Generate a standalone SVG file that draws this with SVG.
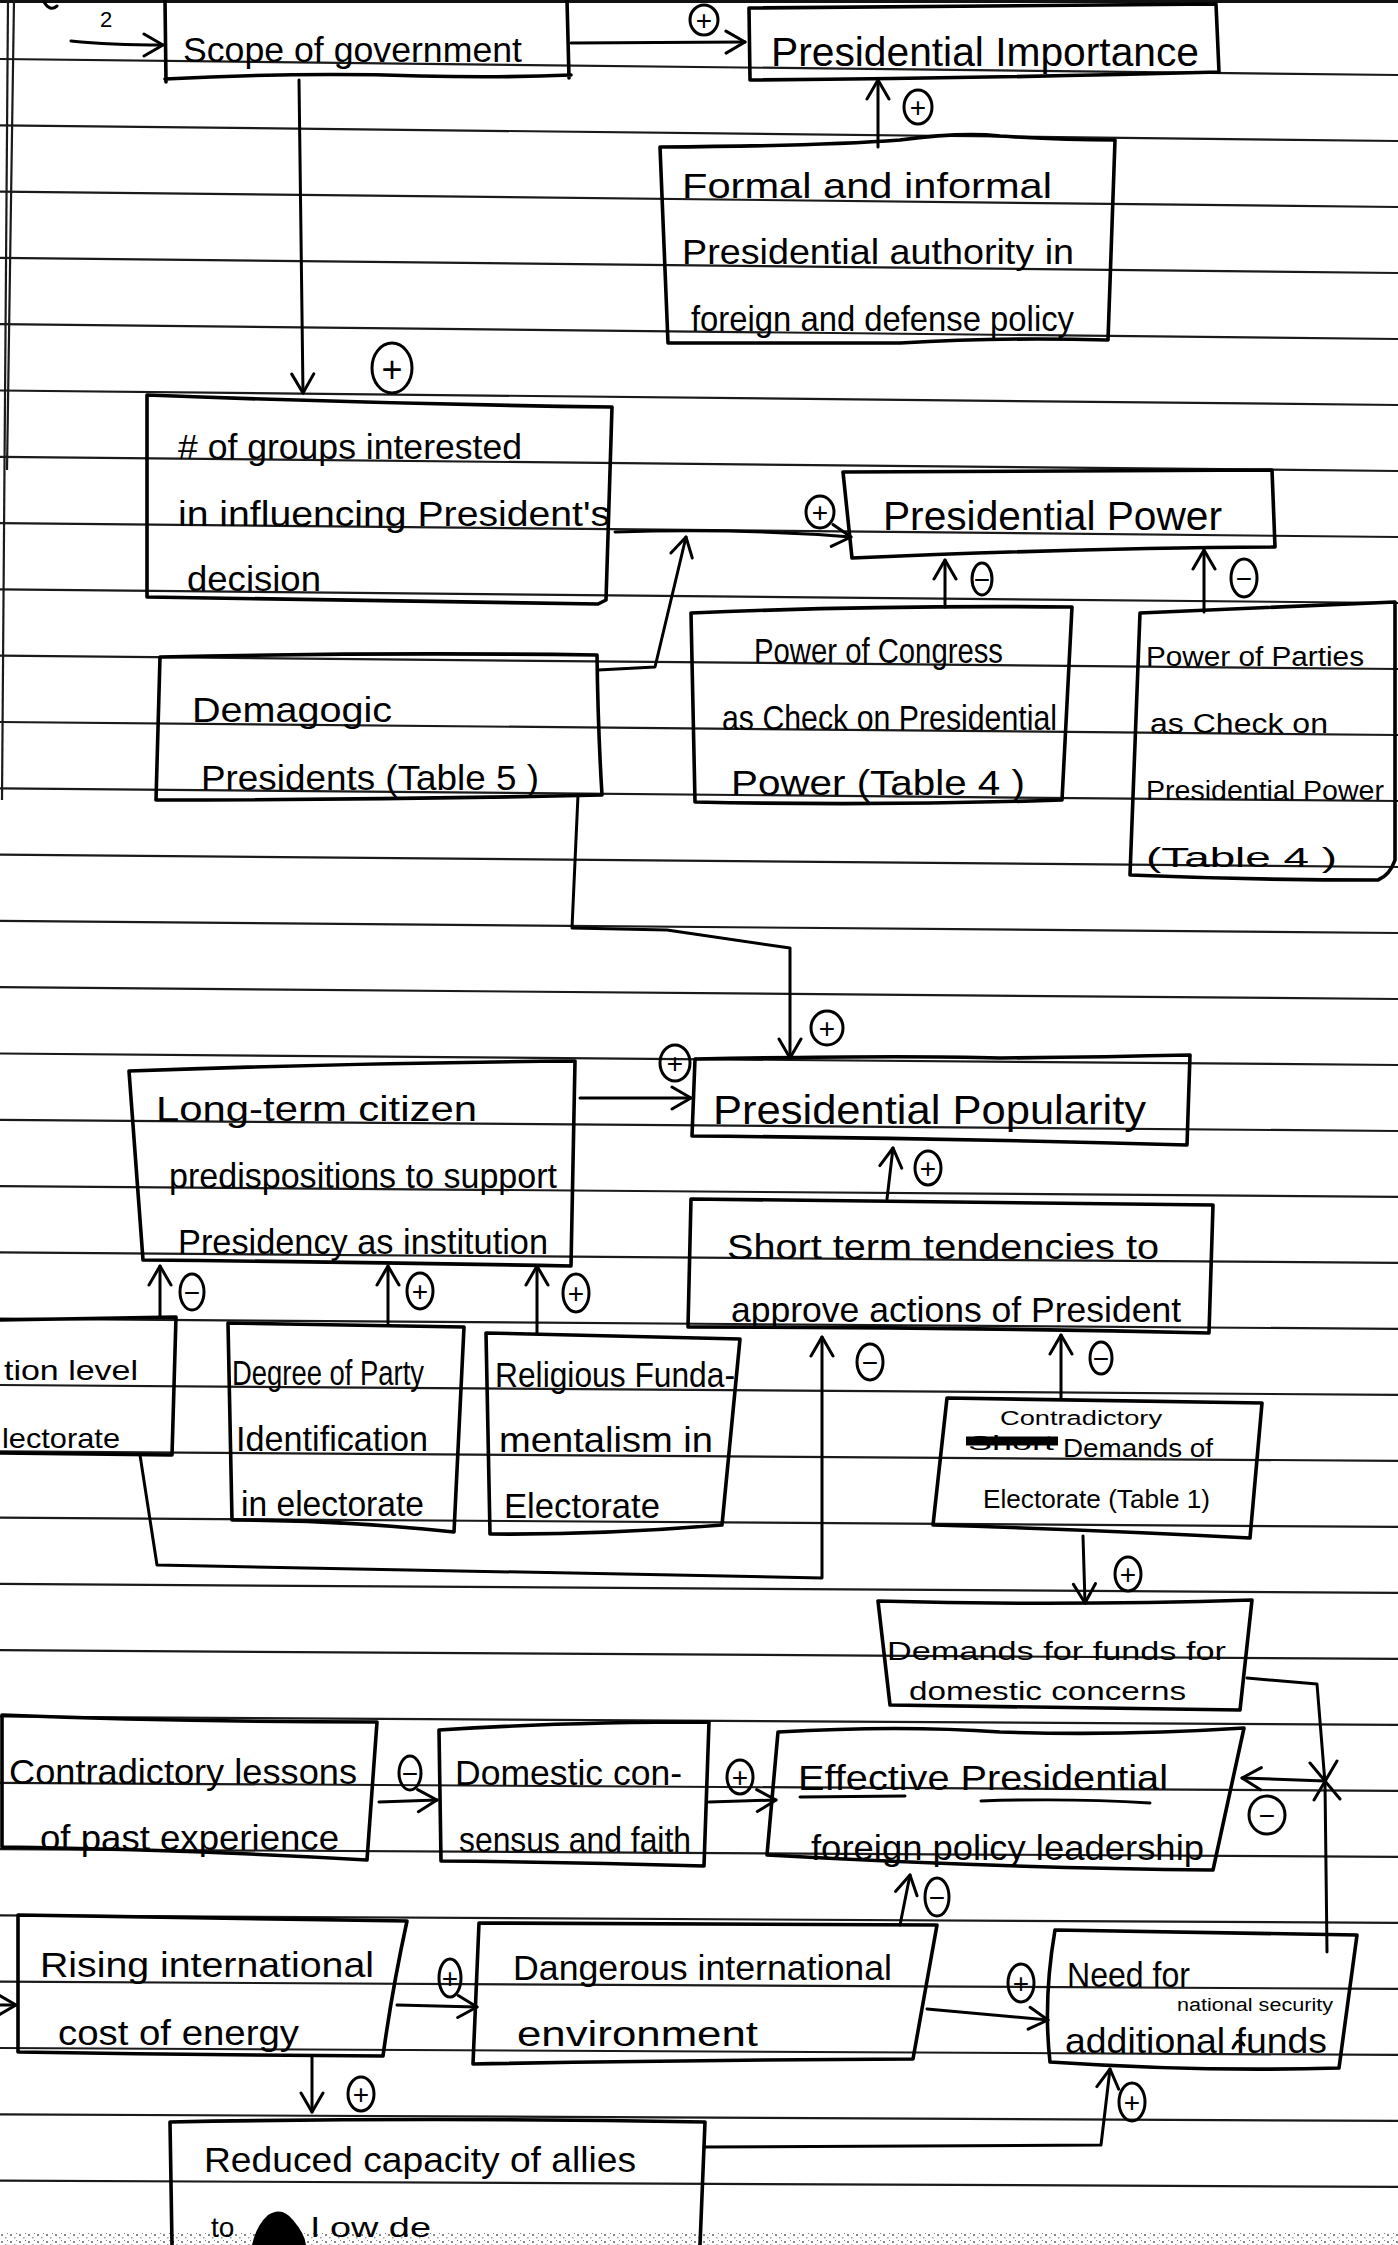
<svg xmlns="http://www.w3.org/2000/svg" width="1398" height="2245" viewBox="0 0 1398 2245">
<defs>
<marker id="arr" viewBox="0 0 24 28" refX="21" refY="14" markerWidth="24" markerHeight="28" markerUnits="userSpaceOnUse" orient="auto"><path d="M2,3 L21,14 L2,25" fill="none" stroke="#000" stroke-width="3" stroke-linecap="round" stroke-linejoin="round"/></marker>
<pattern id="speck" width="9" height="7" patternUnits="userSpaceOnUse"><rect x="1" y="1" width="2" height="2" fill="#555"/><rect x="5" y="4" width="1.5" height="1.5" fill="#777"/><rect x="7" y="0" width="1" height="1" fill="#444"/></pattern>
</defs>
<style>
.rule{stroke:#1a1a1a;stroke-width:2.2;fill:none}
.box{fill:none;stroke:#000;stroke-width:3.6;stroke-linejoin:round;stroke-linecap:round}
.con{fill:none;stroke:#000;stroke-width:3;stroke-linejoin:round;stroke-linecap:round}
.t{font-family:"Liberation Sans","DejaVu Sans",sans-serif;font-size:35px;fill:#000}
.sm{font-size:26px}
.xs{font-size:20px}
.big{font-size:40px}
.nar{font-size:27px}
.mid{font-size:28px}
.tiny{font-size:18px}
.lbl{font-size:22px}
.s{font-family:"Liberation Sans","DejaVu Sans",sans-serif;font-size:28px;fill:#000;text-anchor:middle;dominant-baseline:central}
.sc{fill:none;stroke:#000;stroke-width:3}
</style>
<rect width="1398" height="2245" fill="#fff"/>
<g id="paper">
<line x1="0" y1="1.5" x2="1398" y2="1.5" stroke="#111" stroke-width="3"/>
<line x1="8" y1="0" x2="2" y2="800" class="rule" stroke-width="2.6"/>
<line x1="14" y1="0" x2="7" y2="470" class="rule" stroke-width="2.6"/>
<line x1="0" y1="59" x2="1398" y2="75" class="rule"/>
<line x1="0" y1="125.3" x2="1398" y2="141" class="rule"/>
<line x1="0" y1="191.6" x2="1398" y2="207" class="rule"/>
<line x1="0" y1="257.9" x2="1398" y2="273" class="rule"/>
<line x1="0" y1="324.2" x2="1398" y2="339" class="rule"/>
<line x1="0" y1="390.5" x2="1398" y2="405" class="rule"/>
<line x1="0" y1="456.8" x2="1398" y2="471" class="rule"/>
<line x1="0" y1="523.1" x2="1398" y2="537" class="rule"/>
<line x1="0" y1="589.4" x2="1398" y2="603" class="rule"/>
<line x1="0" y1="655.7" x2="1398" y2="669" class="rule"/>
<line x1="0" y1="722" x2="1398" y2="735" class="rule"/>
<line x1="0" y1="788.3" x2="1398" y2="801" class="rule"/>
<line x1="0" y1="854.6" x2="1398" y2="867" class="rule"/>
<line x1="0" y1="920.9" x2="1398" y2="933" class="rule"/>
<line x1="0" y1="987.2" x2="1398" y2="999" class="rule"/>
<line x1="0" y1="1053.5" x2="1398" y2="1065" class="rule"/>
<line x1="0" y1="1119.8" x2="1398" y2="1131" class="rule"/>
<line x1="0" y1="1186.1" x2="1398" y2="1196.9" class="rule"/>
<line x1="0" y1="1252.4" x2="1398" y2="1262.9" class="rule"/>
<line x1="0" y1="1318.7" x2="1398" y2="1328.9" class="rule"/>
<line x1="0" y1="1385" x2="1398" y2="1394.9" class="rule"/>
<line x1="0" y1="1451.3" x2="1398" y2="1460.9" class="rule"/>
<line x1="0" y1="1517.6" x2="1398" y2="1526.9" class="rule"/>
<line x1="0" y1="1583.9" x2="1398" y2="1592.9" class="rule"/>
<line x1="0" y1="1650.2" x2="1398" y2="1658.9" class="rule"/>
<line x1="0" y1="1716.5" x2="1398" y2="1724.9" class="rule"/>
<line x1="0" y1="1782.8" x2="1398" y2="1790.9" class="rule"/>
<line x1="0" y1="1849.1" x2="1398" y2="1856.9" class="rule"/>
<line x1="0" y1="1915.4" x2="1398" y2="1922.9" class="rule"/>
<line x1="0" y1="1981.7" x2="1398" y2="1988.9" class="rule"/>
<line x1="0" y1="2048" x2="1398" y2="2054.9" class="rule"/>
<line x1="0" y1="2114.3" x2="1398" y2="2120.9" class="rule"/>
<line x1="0" y1="2180.6" x2="1398" y2="2186.9" class="rule"/>
<rect x="0" y="2232" width="1398" height="13" fill="url(#speck)" opacity="0.7"/>
<path d="M44,2 Q50,12 57,6" class="con" stroke-width="2.5"/>
<text x="100" y="27" class="t lbl">2</text>
</g>

<g id="connectors">
<path d="M71,41 Q110,45 163,45" class="con" marker-end="url(#arr)"/>
<path d="M571,43 L745,42" class="con" marker-end="url(#arr)"/>
<path d="M878,147 L878,80" class="con" marker-end="url(#arr)"/>
<path d="M299,80 L303,393" class="con" marker-end="url(#arr)"/>
<path d="M615,532 Q740,528 851,537" class="con" marker-end="url(#arr)"/>
<path d="M598,670 L655,667 L686,537" class="con" marker-end="url(#arr)"/>
<path d="M945,607 L945,560" class="con" marker-end="url(#arr)"/>
<path d="M1204,612 L1204,550" class="con" marker-end="url(#arr)"/>
<path d="M578,795 L572,928 L667,930 L790,948 L790,1058" class="con" marker-end="url(#arr)"/>
<path d="M580,1098 L691,1098" class="con" marker-end="url(#arr)"/>
<path d="M887,1199 L893,1148" class="con" marker-end="url(#arr)"/>
<path d="M160,1316 L160,1266" class="con" marker-end="url(#arr)"/>
<path d="M388,1323 L388,1266" class="con" marker-end="url(#arr)"/>
<path d="M537,1333 L537,1266" class="con" marker-end="url(#arr)"/>
<path d="M140,1455 L157,1565 L822,1578 L822,1337" class="con" marker-end="url(#arr)"/>
<path d="M1061,1398 L1061,1335" class="con" marker-end="url(#arr)"/>
<path d="M1083,1536 L1085,1603" class="con" marker-end="url(#arr)"/>
<path d="M1247,1678 L1317,1684 L1325,1783 L1327,1952" class="con"/>
<path d="M1325,1781 L1242,1778" class="con" marker-end="url(#arr)"/>
<path d="M1310,1763 L1340,1799 M1337,1761 L1314,1800" class="con"/>
<path d="M379,1802 L437,1800" class="con" marker-end="url(#arr)"/>
<path d="M709,1802 L776,1800" class="con" marker-end="url(#arr)"/>
<path d="M900,1925 L910,1875" class="con" marker-end="url(#arr)"/>
<path d="M0,2005 L16,2005" class="con" marker-end="url(#arr)"/>
<path d="M397,2005 L477,2007" class="con" marker-end="url(#arr)"/>
<path d="M312,2057 L312,2112" class="con" marker-end="url(#arr)"/>
<path d="M927,2009 L1048,2020" class="con" marker-end="url(#arr)"/>
<path d="M704,2147 L1101,2145 L1110,2069" class="con" marker-end="url(#arr)"/>
<g id="signs">
<ellipse cx="704" cy="20" rx="14" ry="15" class="sc"/><text x="704" y="20" class="s">+</text>
<ellipse cx="918" cy="107" rx="14" ry="17" class="sc"/><text x="918" y="107" class="s">+</text>
<ellipse cx="392" cy="368" rx="20" ry="25" class="sc"/><text x="392" y="369" class="s" style="font-size:36px">+</text>
<ellipse cx="820" cy="512" rx="14" ry="16" class="sc"/><text x="820" y="512" class="s">+</text>
<ellipse cx="982" cy="579" rx="10" ry="16" class="sc"/><text x="982" y="579" class="s">−</text>
<ellipse cx="1244" cy="578" rx="13" ry="19" class="sc"/><text x="1244" y="578" class="s">−</text>
<ellipse cx="827" cy="1028" rx="16" ry="17" class="sc"/><text x="827" y="1028" class="s">+</text>
<ellipse cx="675" cy="1063" rx="15" ry="18" class="sc"/><text x="675" y="1063" class="s">+</text>
<ellipse cx="928" cy="1168" rx="13" ry="17" class="sc"/><text x="928" y="1168" class="s">+</text>
<ellipse cx="192" cy="1292" rx="12" ry="18" class="sc"/><text x="192" y="1292" class="s">−</text>
<ellipse cx="420" cy="1291" rx="13" ry="18" class="sc"/><text x="420" y="1291" class="s">+</text>
<ellipse cx="576" cy="1293" rx="13" ry="19" class="sc"/><text x="576" y="1293" class="s">+</text>
<ellipse cx="870" cy="1362" rx="13" ry="18" class="sc"/><text x="870" y="1362" class="s">−</text>
<ellipse cx="1101" cy="1358" rx="11" ry="16" class="sc"/><text x="1101" y="1358" class="s">−</text>
<ellipse cx="1128" cy="1574" rx="13" ry="17" class="sc"/><text x="1128" y="1574" class="s">+</text>
<ellipse cx="1267" cy="1815" rx="18" ry="19" class="sc"/><text x="1267" y="1815" class="s">−</text>
<ellipse cx="410" cy="1773" rx="11" ry="17" class="sc"/><text x="410" y="1773" class="s">−</text>
<ellipse cx="740" cy="1777" rx="13" ry="17" class="sc"/><text x="740" y="1777" class="s">+</text>
<ellipse cx="937" cy="1897" rx="12" ry="19" class="sc"/><text x="937" y="1897" class="s">−</text>
<ellipse cx="450" cy="1978" rx="11" ry="19" class="sc"/><text x="450" y="1978" class="s">+</text>
<ellipse cx="361" cy="2094" rx="13" ry="17" class="sc"/><text x="361" y="2094" class="s">+</text>
<ellipse cx="1021" cy="1983" rx="13" ry="19" class="sc"/><text x="1021" y="1983" class="s">+</text>
<ellipse cx="1132" cy="2102" rx="13" ry="19" class="sc"/><text x="1132" y="2102" class="s">+</text>
</g>
</g>

<g id="scope">
<path d="M165,0 L166,82 M165,79 Q300,72 420,76 Q500,78 571,75 M567,0 Q568,40 569,78" class="box"/>
<text x="183" y="62" class="t" textLength="339" lengthAdjust="spacingAndGlyphs">Scope of government</text>
</g>
<g id="importance">
<path d="M749,8 L1216,4 L1219,72 Q1000,78 750,80 Z" class="box"/>
<text x="771" y="66" class="t big" textLength="428" lengthAdjust="spacingAndGlyphs">Presidential Importance</text>
</g>
<g id="formal">
<path d="M660,147 Q820,146 900,140 Q960,132 1000,136 Q1060,140 1115,140 L1108,340 Q1000,337 900,343 Q780,343 668,343 Z" class="box"/>
<text x="682" y="198" class="t" textLength="370" lengthAdjust="spacingAndGlyphs">Formal and informal</text>
<text x="682" y="264" class="t" textLength="392" lengthAdjust="spacingAndGlyphs">Presidential authority in</text>
<text x="691" y="331" class="t" textLength="383" lengthAdjust="spacingAndGlyphs">foreign and defense policy</text>
</g>
<g id="groups">
<path d="M147,395 Q380,404 612,407 L606,600 L598,604 Q400,600 147,597 Z" class="box"/>
<text x="178" y="459" class="t" textLength="344" lengthAdjust="spacingAndGlyphs"># of groups interested</text>
<text x="178" y="526" class="t" textLength="432" lengthAdjust="spacingAndGlyphs">in influencing President's</text>
<text x="187" y="591" class="t" textLength="134" lengthAdjust="spacingAndGlyphs">decision</text>
</g>
<g id="power">
<path d="M843,472 L1272,470 L1275,547 Q1080,548 852,558 Z" class="box"/>
<text x="883" y="530" class="t big" textLength="339" lengthAdjust="spacingAndGlyphs">Presidential Power</text>
</g>
<g id="congress">
<path d="M691,613 Q880,605 1072,607 L1062,800 Q880,806 695,802 Z" class="box"/>
<text x="754" y="663" class="t" textLength="249" lengthAdjust="spacingAndGlyphs">Power of Congress</text>
<text x="722" y="730" class="t" textLength="335" lengthAdjust="spacingAndGlyphs">as Check on Presidential</text>
<text x="731" y="795" class="t" textLength="294" lengthAdjust="spacingAndGlyphs">Power (Table 4 )</text>
</g>
<g id="parties">
<path d="M1140,613 Q1280,607 1395,602 L1395,860 Q1390,875 1378,880 Q1250,880 1130,875 Z" class="box"/>
<text x="1146" y="666" class="t nar" textLength="218" lengthAdjust="spacingAndGlyphs">Power of Parties</text>
<text x="1150" y="733" class="t nar" textLength="178" lengthAdjust="spacingAndGlyphs">as Check on</text>
<text x="1146" y="800" class="t nar" textLength="238" lengthAdjust="spacingAndGlyphs">Presidential Power</text>
<text x="1146" y="867" class="t nar" textLength="191" lengthAdjust="spacingAndGlyphs">(Table 4 )</text>
</g>
<g id="demagogic">
<path d="M160,657 Q380,652 597,655 Q598,730 602,795 Q380,800 156,800 Z" class="box"/>
<text x="192" y="722" class="t" textLength="200" lengthAdjust="spacingAndGlyphs">Demagogic</text>
<text x="201" y="790" class="t" textLength="338" lengthAdjust="spacingAndGlyphs">Presidents (Table 5 )</text>
</g>
<g id="popularity">
<path d="M695,1059 Q900,1055 1000,1058 Q1100,1057 1190,1055 L1187,1145 Q940,1138 692,1136 Z" class="box"/>
<text x="713" y="1124" class="t big" textLength="433" lengthAdjust="spacingAndGlyphs">Presidential Popularity</text>
</g>
<g id="longterm">
<path d="M129,1071 Q350,1063 575,1061 L571,1266 Q360,1262 143,1260 Z" class="box"/>
<text x="156" y="1121" class="t" textLength="321" lengthAdjust="spacingAndGlyphs">Long-term citizen</text>
<text x="169" y="1188" class="t" textLength="388" lengthAdjust="spacingAndGlyphs">predispositions to support</text>
<text x="178" y="1254" class="t" textLength="370" lengthAdjust="spacingAndGlyphs">Presidency as institution</text>
</g>
<g id="education">
<path d="M0,1320 L176,1317 L172,1455 L0,1453" class="box"/>
<text x="4" y="1380" class="t mid" textLength="134" lengthAdjust="spacingAndGlyphs">tion level</text>
<text x="2" y="1448" class="t mid" textLength="118" lengthAdjust="spacingAndGlyphs">lectorate</text>
</g>
<g id="degree">
<path d="M228,1323 L464,1327 L454,1532 Q340,1520 232,1520 Z" class="box"/>
<text x="232" y="1385" class="t" textLength="192" lengthAdjust="spacingAndGlyphs">Degree of Party</text>
<text x="236" y="1451" class="t" textLength="192" lengthAdjust="spacingAndGlyphs">Identification</text>
<text x="241" y="1516" class="t" textLength="183" lengthAdjust="spacingAndGlyphs">in electorate</text>
</g>
<g id="religious">
<path d="M486,1333 L740,1339 L722,1525 Q600,1535 490,1534 Z" class="box"/>
<text x="495" y="1387" class="t" textLength="240" lengthAdjust="spacingAndGlyphs">Religious Funda-</text>
<text x="499" y="1452" class="t" textLength="214" lengthAdjust="spacingAndGlyphs">mentalism in</text>
<text x="504" y="1518" class="t" textLength="156" lengthAdjust="spacingAndGlyphs">Electorate</text>
</g>
<g id="shortterm">
<path d="M691,1199 L1213,1205 L1209,1333 Q950,1327 688,1327 Z" class="box"/>
<text x="727" y="1259" class="t" textLength="432" lengthAdjust="spacingAndGlyphs">Short term tendencies to</text>
<text x="731" y="1322" class="t" textLength="450" lengthAdjust="spacingAndGlyphs">approve actions of President</text>
</g>
<g id="contradictory-demands">
<path d="M947,1398 L1262,1403 L1250,1538 Q1100,1530 933,1525 Z" class="box"/>
<text x="1000" y="1425" class="t xs" textLength="162" lengthAdjust="spacingAndGlyphs">Contradictory</text>
<text x="968" y="1450" class="t xs" textLength="86" lengthAdjust="spacingAndGlyphs">Short</text>
<path d="M966,1441 L1058,1441" stroke="#000" stroke-width="9" fill="none"/>
<text x="1063" y="1457" class="t sm" textLength="150" lengthAdjust="spacingAndGlyphs">Demands of</text>
<text x="983" y="1508" class="t sm" textLength="227" lengthAdjust="spacingAndGlyphs">Electorate (Table 1)</text>
</g>
<g id="demands-funds">
<path d="M878,1601 Q1060,1606 1252,1600 L1240,1710 Q1060,1708 890,1705 Z" class="box"/>
<text x="887" y="1660" class="t sm" textLength="339" lengthAdjust="spacingAndGlyphs">Demands for funds for</text>
<text x="909" y="1700" class="t sm" textLength="277" lengthAdjust="spacingAndGlyphs">domestic concerns</text>
</g>
<g id="lessons">
<path d="M2,1715 Q180,1722 377,1722 L367,1860 Q200,1850 2,1847 Z" class="box"/>
<text x="9" y="1784" class="t" textLength="348" lengthAdjust="spacingAndGlyphs">Contradictory lessons</text>
<text x="40" y="1850" class="t" textLength="299" lengthAdjust="spacingAndGlyphs">of past experience</text>
</g>
<g id="domestic">
<path d="M439,1730 Q560,1722 709,1722 L704,1866 Q570,1862 441,1861 Z" class="box"/>
<text x="455" y="1785" class="t" textLength="227" lengthAdjust="spacingAndGlyphs">Domestic con-</text>
<text x="459" y="1852" class="t" textLength="232" lengthAdjust="spacingAndGlyphs">sensus and faith</text>
</g>
<g id="effective">
<path d="M778,1732 Q900,1725 1000,1732 Q1120,1736 1244,1728 L1213,1870 Q1000,1868 767,1855 Z" class="box"/>
<text x="798" y="1790" class="t" textLength="370" lengthAdjust="spacingAndGlyphs">Effective Presidential</text>
<path d="M800,1797 L905,1796 M981,1801 Q1070,1798 1150,1803" class="con" stroke-width="2.5"/>
<text x="811" y="1860" class="t" textLength="393" lengthAdjust="spacingAndGlyphs">foreign policy leadership</text>
</g>
<g id="rising">
<path d="M18,1915 L407,1921 Q392,1990 383,2056 Q200,2055 18,2052 Z" class="box"/>
<text x="40" y="1977" class="t" textLength="334" lengthAdjust="spacingAndGlyphs">Rising international</text>
<text x="58" y="2045" class="t" textLength="241" lengthAdjust="spacingAndGlyphs">cost of energy</text>
</g>
<g id="dangerous">
<path d="M479,1923 L937,1925 L913,2059 Q700,2060 473,2064 Z" class="box"/>
<text x="513" y="1980" class="t" textLength="379" lengthAdjust="spacingAndGlyphs">Dangerous international</text>
<text x="517" y="2046" class="t" textLength="241" lengthAdjust="spacingAndGlyphs">environment</text>
</g>
<g id="need">
<path d="M1055,1930 L1357,1935 L1339,2068 Q1200,2072 1050,2062 Q1043,2000 1055,1930 Z" class="box"/>
<text x="1067" y="1987" class="t" textLength="123" lengthAdjust="spacingAndGlyphs">Need for</text>
<text x="1177" y="2011" class="t tiny" textLength="156" lengthAdjust="spacingAndGlyphs">national security</text>
<path d="M1233,2048 Q1238,2036 1244,2045" class="con" stroke-width="2"/>
<text x="1065" y="2053" class="t" textLength="262" lengthAdjust="spacingAndGlyphs">additional funds</text>
</g>
<g id="reduced">
<path d="M172,2245 L170,2122 Q430,2117 705,2122 L700,2245" class="box"/>
<text x="204" y="2172" class="t" textLength="432" lengthAdjust="spacingAndGlyphs">Reduced capacity of allies</text>
<text x="211" y="2237" class="t mid">to</text>
<path d="M252,2245 Q256,2226 268,2215 Q282,2206 293,2220 Q305,2234 306,2245 Z" fill="#000"/>
<text x="311" y="2237" class="t mid" textLength="120" lengthAdjust="spacingAndGlyphs">l ow de</text>
</g>
</svg>
